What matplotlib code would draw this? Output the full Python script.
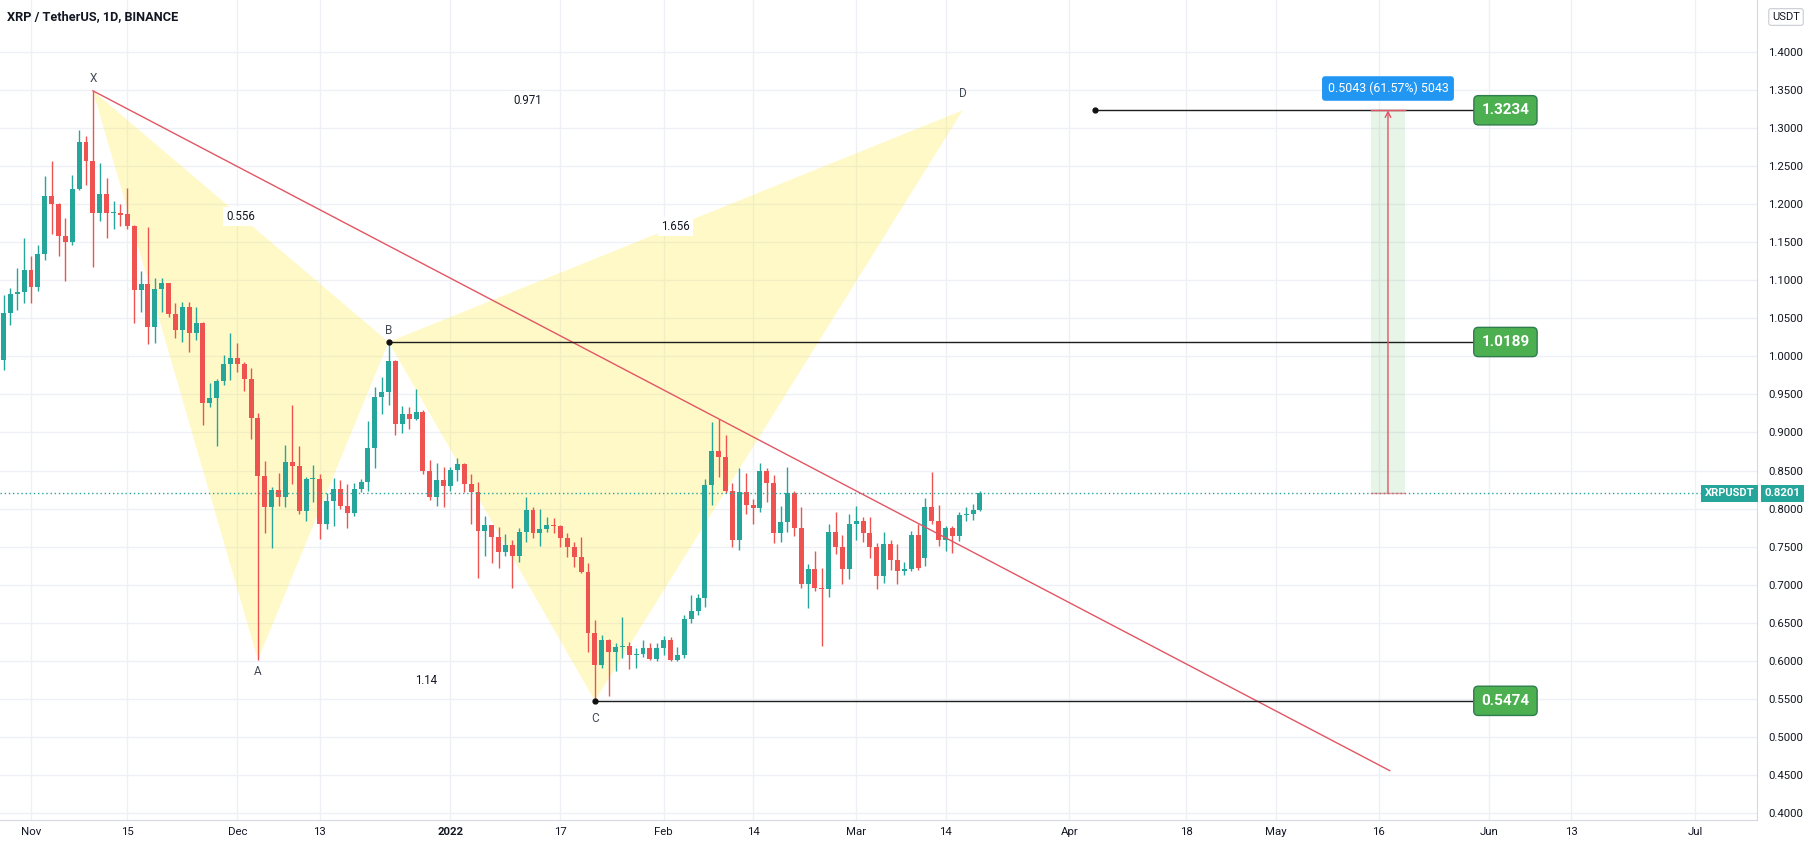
import matplotlib
matplotlib.use("Agg")
import matplotlib.pyplot as plt
import matplotlib.dates as mdates
import numpy as np
import pandas as pd
from matplotlib.patches import Polygon, Rectangle

W, H = 1814, 848

# daily candles, XRP / USDT
start_date = "2021-10-28"
opens = [0.9956, 1.057, 1.082, 1.085, 1.113, 1.091, 1.135, 1.211, 1.200, 1.158,
         1.150, 1.220, 1.282, 1.257, 1.189, 1.214, 1.188, 1.189, 1.187, 1.171,
         1.087, 1.0947, 1.039, 1.088, 1.096, 1.0557, 1.0347, 1.0653, 1.0312, 1.0435,
         0.9384, 0.945, 0.967, 0.9895, 0.9976, 0.9895, 0.9703, 0.9195, 0.8432, 0.8025,
         0.8244, 0.8148, 0.8608, 0.8564, 0.7973, 0.8389, 0.8395, 0.7798, 0.81, 0.8254,
         0.8034, 0.7946, 0.8254, 0.8354, 0.8792, 0.947, 0.9528, 0.994, 0.9108, 0.9239,
         0.9177, 0.9265, 0.85, 0.8157, 0.8376, 0.8297, 0.851, 0.859, 0.8319, 0.8214,
         0.771, 0.7785, 0.7623, 0.7434, 0.7522, 0.738, 0.7687, 0.7982, 0.7674, 0.7728,
         0.778, 0.7776, 0.761, 0.75, 0.7368, 0.7171, 0.636, 0.5945, 0.6273, 0.611,
         0.6176, 0.619, 0.6075, 0.609, 0.6164, 0.602, 0.6164, 0.6273, 0.6015, 0.6075,
         0.6545, 0.6654, 0.6822, 0.831, 0.8757, 0.8683, 0.8235, 0.7587, 0.8214, 0.8047,
         0.8003, 0.8498, 0.8337, 0.7675, 0.7828, 0.8201, 0.775, 0.7005, 0.7202, 0.6952,
         0.6945, 0.7688, 0.75, 0.7202, 0.7804, 0.7835, 0.7675, 0.75, 0.7119, 0.7535,
         0.7327, 0.7184, 0.7206, 0.7653, 0.735, 0.8025, 0.7843, 0.7587, 0.7749, 0.7643,
         0.7916, 0.7934, 0.7985]
highs = [1.081, 1.090, 1.116, 1.155, 1.132, 1.147, 1.237, 1.257, 1.201, 1.182,
         1.238, 1.297, 1.289, 1.349, 1.254, 1.235, 1.204, 1.200, 1.221, 1.172,
         1.1127, 1.1696, 1.1034, 1.1026, 1.097, 1.0697, 1.072, 1.072, 1.0653, 1.0456,
         0.9647, 0.970, 1.0018, 1.0304, 1.0173, 0.992, 0.9844, 0.925, 0.862, 0.8288,
         0.8472, 0.8836, 0.9362, 0.8827, 0.842, 0.8573, 0.845, 0.8202, 0.8398, 0.8376,
         0.8323, 0.8332, 0.8389, 0.915, 0.9602, 0.9725, 1.0189, 0.995, 0.9348, 0.9339,
         0.9568, 0.930, 0.8639, 0.8603, 0.855, 0.855, 0.867, 0.860, 0.8454, 0.8353,
         0.7907, 0.779, 0.7763, 0.7662, 0.7587, 0.775, 0.8157, 0.8016, 0.799, 0.7886,
         0.7872, 0.779, 0.7675, 0.7565, 0.7623, 0.728, 0.6536, 0.6339, 0.6283, 0.6229,
         0.658, 0.6243, 0.6164, 0.6273, 0.623, 0.623, 0.6325, 0.631, 0.6185, 0.6603,
         0.6866, 0.6879, 0.8385, 0.9143, 0.9173, 0.8969, 0.8332, 0.853, 0.8472, 0.8126,
         0.8595, 0.853, 0.8441, 0.8034, 0.855, 0.8235, 0.8025, 0.7268, 0.7443, 0.7216,
         0.7797, 0.7952, 0.7652, 0.7925, 0.8034, 0.7894, 0.7886, 0.7553, 0.7688, 0.7587,
         0.7535, 0.7303, 0.7705, 0.7797, 0.8134, 0.8485, 0.8047, 0.7771, 0.7771, 0.7952,
         0.8016, 0.8055, 0.8235]
lows = [0.982, 1.041, 1.061, 1.070, 1.070, 1.086, 1.126, 1.161, 1.132, 1.099,
        1.146, 1.219, 1.225, 1.118, 1.178, 1.156, 1.168, 1.171, 1.167, 1.0435,
        1.0588, 1.0163, 1.018, 1.0588, 1.052, 1.0246, 1.0185, 1.006, 1.0216, 0.9099,
        0.9331, 0.8823, 0.962, 0.969, 0.980, 0.955, 0.891, 0.601, 0.7675, 0.7487,
        0.804, 0.8025, 0.8323, 0.7925, 0.784, 0.809, 0.760, 0.7728, 0.7771, 0.7995,
        0.775, 0.7903, 0.8214, 0.8235, 0.8528, 0.924, 0.936, 0.8967, 0.899, 0.9042,
        0.916, 0.8454, 0.8113, 0.8034, 0.8025, 0.8235, 0.8363, 0.8222, 0.7794, 0.709,
        0.7378, 0.729, 0.7224, 0.7382, 0.696, 0.7302, 0.7565, 0.7608, 0.7512, 0.7688,
        0.7674, 0.750, 0.736, 0.7236, 0.715, 0.611, 0.5474, 0.5901, 0.5537, 0.587,
        0.6033, 0.5888, 0.590, 0.6053, 0.6015, 0.600, 0.6075, 0.600, 0.600, 0.6033,
        0.650, 0.6603, 0.6711, 0.8047, 0.842, 0.8209, 0.750, 0.7456, 0.7925, 0.7797,
        0.796, 0.8091, 0.7544, 0.7566, 0.7697, 0.764, 0.6952, 0.6689, 0.6917, 0.6198,
        0.6834, 0.7403, 0.7003, 0.7075, 0.7585, 0.7566, 0.7347, 0.6944, 0.7025, 0.7193,
        0.7003, 0.7127, 0.7184, 0.7193, 0.7243, 0.7792, 0.7508, 0.7443, 0.7412, 0.7575,
        0.7843, 0.785, 0.797]
closes = [1.057, 1.082, 1.085, 1.113, 1.091, 1.135, 1.211, 1.200, 1.158, 1.150,
          1.220, 1.282, 1.257, 1.189, 1.214, 1.189, 1.189, 1.186, 1.171, 1.087,
          1.0947, 1.039, 1.088, 1.096, 1.0557, 1.0347, 1.0653, 1.0312, 1.0435, 0.9384,
          0.945, 0.967, 0.9895, 0.9976, 0.9895, 0.9703, 0.9195, 0.8432, 0.8025, 0.8244,
          0.8148, 0.8608, 0.8564, 0.7973, 0.8389, 0.8395, 0.7798, 0.81, 0.8254, 0.8034,
          0.7946, 0.8254, 0.8354, 0.8792, 0.947, 0.9528, 0.994, 0.9108, 0.9239, 0.9177,
          0.9265, 0.85, 0.8157, 0.8376, 0.8297, 0.851, 0.859, 0.8319, 0.8214, 0.771,
          0.7785, 0.7623, 0.7434, 0.7522, 0.738, 0.7687, 0.7982, 0.7674, 0.7728, 0.778,
          0.7776, 0.761, 0.75, 0.7368, 0.7171, 0.636, 0.5945, 0.6273, 0.611, 0.6176,
          0.619, 0.6075, 0.609, 0.6164, 0.602, 0.6164, 0.6273, 0.6015, 0.6075, 0.6545,
          0.6654, 0.6822, 0.831, 0.8757, 0.8683, 0.8235, 0.7587, 0.8214, 0.8047, 0.8003,
          0.8498, 0.8337, 0.7675, 0.7828, 0.8201, 0.775, 0.7005, 0.7202, 0.6952, 0.6945,
          0.7688, 0.75, 0.7202, 0.7804, 0.7835, 0.7675, 0.75, 0.7119, 0.7535, 0.7327,
          0.7184, 0.7206, 0.7653, 0.7216, 0.8025, 0.7843, 0.7587, 0.7749, 0.7643, 0.7916,
          0.7934, 0.7985, 0.8201]

# harmonic pattern points
pattern_names = ["X", "A", "B", "C", "D"]
pattern_dates = ["2021-11-10", "2021-12-04", "2021-12-23", "2022-01-22", "2022-03-16 12:00"]
pattern_prices = [1.349, 0.601, 1.0189, 0.5474, 1.3234]
ratio_labels = ["0.556", "1.14", "1.656", "0.971"]
ratio_pairs = [("X", "B"), ("A", "C"), ("B", "D"), ("X", "D")]

trend_dates = ["2021-11-10", "2022-05-17 14:00"]
trend_prices = [1.349, 0.4557]

levels = [1.3234, 1.0189, 0.5474]
level_starts = ["2022-04-04 17:00", "2021-12-23", "2022-01-22"]
level_end = "2022-05-29 17:00"
label_center = "2022-06-03 10:00"

range_dates = ["2022-05-14 22:00", "2022-05-19 19:00"]
range_mid = "2022-05-17 08:00"
range_prices = [0.8201, 1.3234]
range_text = "0.5043 (61.57%) 5043"

last_price = 0.8201

tick_dates = ["2021-11-01", "2021-11-15", "2021-12-01", "2021-12-13", "2022-01-01",
              "2022-01-17", "2022-02-01", "2022-02-14", "2022-03-01", "2022-03-14",
              "2022-04-01", "2022-04-18", "2022-05-01", "2022-05-16", "2022-06-01",
              "2022-06-13", "2022-07-01"]
tick_labels = ["Nov", "15", "Dec", "13", "2022", "17", "Feb", "14", "Mar", "14",
               "Apr", "18", "May", "16", "Jun", "13", "Jul"]

UP = "#26a69a"
DOWN = "#ef5350"
TXT = "#131722"
GRID = "#eef0f5"

plt.rcParams["font.family"] = ["Roboto", "DejaVu Sans"]

def dnum(s):
    return mdates.date2num(pd.Timestamp(s))

dates = pd.date_range(start_date, periods=len(opens), freq="D")
x = mdates.date2num(dates)
o = np.array(opens)
h = np.array(highs)
l = np.array(lows)
c = np.array(closes)
colors = np.where(c >= o, UP, DOWN)

fig = plt.figure(figsize=(W / 100, H / 100), dpi=100)
ax = fig.add_axes([0, 1 - 820 / H, 1757 / W, 820 / H])

x0 = dnum("2021-11-01")
ax.set_xlim(x0 - 4.51, x0 + 251.0)
ax.set_ylim(0.3908, 1.4683)

# grid
ax.set_yticks(np.round(np.arange(0.40, 1.4001, 0.05), 2))
ax.set_yticklabels([f"{v:.4f}" for v in np.arange(0.40, 1.4001, 0.05)])
ax.set_xticks([dnum(t) for t in tick_dates])
ax.set_xticklabels(tick_labels)
for lab in ax.get_xticklabels():
    if lab.get_text() == "2022":
        lab.set_fontweight("bold")
ax.grid(True, color=GRID, lw=1, zorder=0)
ax.set_axisbelow(True)
ax.yaxis.tick_right()
ax.tick_params(axis="y", length=0, pad=8, labelsize=8.2, labelcolor=TXT)
ax.tick_params(axis="x", length=0, pad=5, labelsize=8.2, labelcolor=TXT)
for side in ["top", "left"]:
    ax.spines[side].set_visible(False)
for side in ["right", "bottom"]:
    ax.spines[side].set_color("#d6d9e0")

# pattern triangles
pts = {n: (dnum(d), p) for n, d, p in zip(pattern_names, pattern_dates, pattern_prices)}
for tri in [("X", "A", "B"), ("B", "C", "D")]:
    ax.add_patch(Polygon([pts[n] for n in tri], closed=True,
                         facecolor=(1.0, 0.92, 0.23, 0.28), edgecolor="none", zorder=1))

# candles
ax.vlines(x, l, h, colors=colors, lw=1, zorder=3)
body_bottom = np.minimum(o, c)
body_height = np.maximum(np.abs(c - o), 0.0013)
ax.bar(x, body_height, bottom=body_bottom, width=0.72, color=colors, lw=0, zorder=4)

# trend line
ax.plot([dnum(d) for d in trend_dates], trend_prices, color="#e25563", lw=1, zorder=5)

# pattern letters
letter_offsets = {"X": 9, "A": -8, "B": 8, "C": -13, "D": 12}
for n in pattern_names:
    px, py = pts[n]
    ax.annotate(n, (px, py), xytext=(0, letter_offsets[n]), textcoords="offset points",
                ha="center", va="center", fontsize=8.5, color="#444a55", zorder=7)
for lab, (a, b) in zip(ratio_labels, ratio_pairs):
    mx = (pts[a][0] + pts[b][0]) / 2
    my = (pts[a][1] + pts[b][1]) / 2
    ax.text(mx, my, lab, ha="center", va="center", fontsize=8.3, color=TXT, zorder=7,
            bbox=dict(boxstyle="square,pad=0.25", fc="white", ec="none"))

# horizontal levels with labels
for lev, st in zip(levels, level_starts):
    ax.plot([dnum(st), dnum(level_end)], [lev, lev], color="#1e1e1e", lw=1, zorder=6)
    ax.plot(dnum(st), lev, "o", color="#111111", ms=3.5, zorder=7)
    ax.text(dnum(label_center), lev, f"{lev:.4f}", ha="center", va="center",
            fontsize=11, fontweight="bold", color="white", zorder=8,
            bbox=dict(boxstyle="round,pad=0.5,rounding_size=0.3", fc="#4caf50",
                      ec="#2f7d4f", lw=1))

# price range measurement
rx0, rx1 = dnum(range_dates[0]), dnum(range_dates[1])
ax.add_patch(Rectangle((rx0, range_prices[0]), rx1 - rx0, range_prices[1] - range_prices[0],
                       facecolor="#4caf50", alpha=0.13, edgecolor="none", zorder=2))
ax.plot([rx0, rx1], [range_prices[1]] * 2, color="#e25563", lw=1, zorder=6)
ax.plot([rx0, rx1], [range_prices[0]] * 2, color="#e25563", lw=1, alpha=0.6, zorder=6)
ax.annotate("", xy=(dnum(range_mid), range_prices[1]), xytext=(dnum(range_mid), range_prices[0]),
            arrowprops=dict(arrowstyle="->", color="#e25563", lw=1, shrinkA=0, shrinkB=0),
            zorder=6)
ax.text(dnum(range_mid), 1.352, range_text, ha="center", va="center", fontsize=8.9,
        color="white", zorder=8,
        bbox=dict(boxstyle="round,pad=0.45,rounding_size=0.25", fc="#2196f3", ec="none"))

# last price line and labels
ax.axhline(last_price, color=UP, lw=1, ls=(0, (1, 2)), zorder=5)
ax.text(0.9985, last_price, "XRPUSDT", transform=ax.get_yaxis_transform(), ha="right",
        va="center", fontsize=8, fontweight="bold", color="white", zorder=9,
        bbox=dict(boxstyle="square,pad=0.3", fc=UP, ec="none"))
ax.text(1.0045, last_price, f"{last_price:.4f}", transform=ax.get_yaxis_transform(),
        ha="left", va="center", fontsize=8.2, fontweight="bold", color="white", zorder=9,
        clip_on=False, bbox=dict(boxstyle="square,pad=0.3", fc=UP, ec="none"))

# header texts
fig.text(7 / W, 1 - 17 / H, "XRP / TetherUS, 1D, BINANCE", ha="left", va="center",
         fontsize=9.2, fontweight="bold", color=TXT)
fig.text(1786 / W, 1 - 17 / H, "USDT", ha="center", va="center", fontsize=8, color=TXT,
         bbox=dict(boxstyle="round,pad=0.3,rounding_size=0.2", fc="white", ec="#c9ccd3", lw=0.8))

fig.savefig("out.png", dpi=100, facecolor="white")
